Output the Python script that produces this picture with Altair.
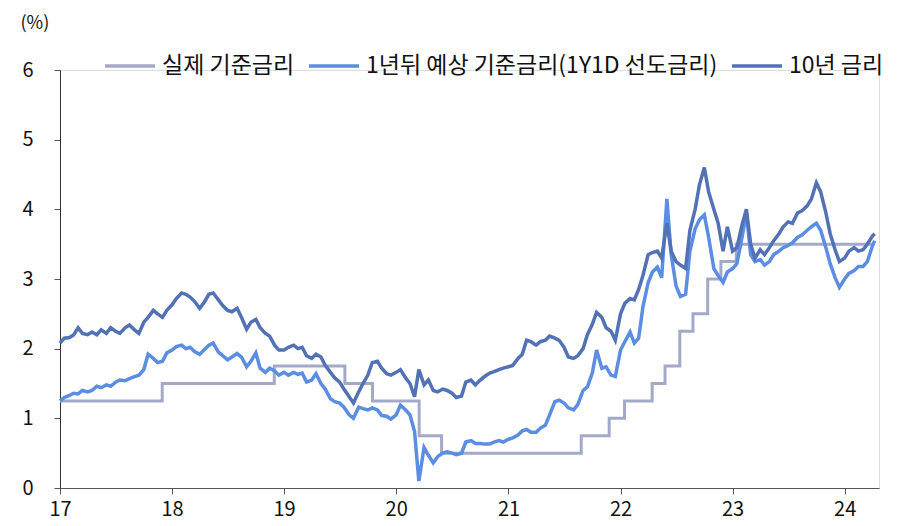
import altair as alt
import pandas as pd

NAMES = ["실제 기준금리", "1년뒤 예상 기준금리(1Y1D 선도금리)", "10년 금리"]
COLORS = ["#A3AAC9", "#5B8DE2", "#5272B5"]

# Actual policy rate (step changes)
BASE_DATES = ["2017/01/01", "2017/11/30", "2018/11/30", "2019/07/18", "2019/10/16",
              "2020/03/16", "2020/05/28", "2021/08/26", "2021/11/25", "2022/01/14",
              "2022/04/14", "2022/05/26", "2022/07/13", "2022/08/25", "2022/10/12",
              "2022/11/24", "2023/01/13", "2024/04/08"]
BASE_RATE = [1.25, 1.50, 1.75, 1.50, 1.25, 0.75, 0.50, 0.75, 1.00, 1.25,
             1.50, 1.75, 2.25, 2.50, 3.00, 3.25, 3.50, 3.50]

# semi-monthly observation dates (1st and 15th) + last obs
SERIES_DATES = [d.strftime("%Y/%m/%d") for d in
                pd.date_range("2017-01-01", "2024-04-01", freq="SMS")] + ["2024/04/08"]

TEN_YEAR = [
    # 2017
    2.08, 2.15, 2.16, 2.20, 2.30, 2.22, 2.20, 2.24, 2.20, 2.27, 2.22, 2.30,
    2.25, 2.22, 2.30, 2.34, 2.27, 2.22, 2.38, 2.45, 2.55, 2.50, 2.45, 2.55,
    # 2018
    2.63, 2.72, 2.80, 2.78, 2.74, 2.68, 2.58, 2.66, 2.78, 2.80, 2.70, 2.62,
    2.55, 2.53, 2.58, 2.45, 2.28, 2.38, 2.42, 2.30, 2.22, 2.18, 2.05, 1.98,
    # 2019
    1.98, 2.02, 2.05, 2.00, 2.02, 1.90, 1.86, 1.92, 1.88, 1.76, 1.66, 1.58,
    1.52, 1.42, 1.31, 1.22, 1.38, 1.50, 1.62, 1.80, 1.82, 1.72, 1.64, 1.62,
    # 2020
    1.66, 1.70, 1.58, 1.50, 1.31, 1.70, 1.48, 1.55, 1.40, 1.38, 1.42, 1.40,
    1.36, 1.30, 1.32, 1.52, 1.55, 1.48, 1.55, 1.60, 1.65, 1.67, 1.70, 1.72,
    # 2021
    1.74, 1.76, 1.86, 1.92, 2.12, 2.10, 2.05, 2.10, 2.12, 2.18, 2.15, 2.12,
    2.02, 1.88, 1.86, 1.90, 2.00, 2.20, 2.35, 2.52, 2.45, 2.30, 2.25, 2.12,
    # 2022
    2.50, 2.65, 2.72, 2.70, 2.85, 3.05, 3.35, 3.38, 3.40, 3.30, 3.80, 3.40,
    3.25, 3.20, 3.15, 3.70, 4.00, 4.35, 4.60, 4.25, 4.00, 3.80, 3.40, 3.75,
    # 2023
    3.40, 3.45, 3.78, 4.00, 3.50, 3.30, 3.42, 3.35, 3.45, 3.55, 3.65, 3.75,
    3.82, 3.80, 3.95, 3.98, 4.05, 4.15, 4.38, 4.25, 3.95, 3.65, 3.42, 3.25,
    # 2024
    3.30, 3.40, 3.45, 3.40, 3.42, 3.50, 3.62, 3.65,
]

FWD_1Y1D = [
    # 2017
    1.25, 1.30, 1.33, 1.36, 1.35, 1.40, 1.38, 1.40, 1.46, 1.44, 1.48, 1.46,
    1.52, 1.55, 1.54, 1.57, 1.60, 1.62, 1.70, 1.92, 1.86, 1.80, 1.82, 1.94,
    # 2018
    1.98, 2.03, 2.05, 2.00, 2.02, 1.96, 1.92, 1.98, 2.05, 2.08, 1.95, 1.90,
    1.84, 1.88, 1.93, 1.88, 1.74, 1.82, 1.94, 1.72, 1.66, 1.72, 1.68, 1.62,
    # 2019
    1.66, 1.62, 1.66, 1.63, 1.65, 1.52, 1.55, 1.64, 1.50, 1.42, 1.28, 1.24,
    1.22, 1.16, 1.05, 1.00, 1.16, 1.14, 1.12, 1.15, 1.12, 1.04, 1.03, 0.99,
    # 2020
    1.05, 1.19, 1.12, 1.05, 0.81, 0.10, 0.58, 0.47, 0.36, 0.45, 0.50, 0.52,
    0.50, 0.48, 0.50, 0.66, 0.68, 0.64, 0.64, 0.63, 0.63, 0.66, 0.68, 0.66,
    # 2021
    0.70, 0.72, 0.76, 0.82, 0.84, 0.80, 0.80, 0.86, 0.90, 1.05, 1.24, 1.26,
    1.22, 1.15, 1.12, 1.20, 1.40, 1.45, 1.65, 1.98, 1.72, 1.74, 1.62, 1.60,
    # 2022
    1.98, 2.10, 2.24, 2.08, 2.15, 2.60, 2.95, 3.10, 3.17, 3.02, 4.15, 3.35,
    2.90, 2.75, 2.78, 3.40, 3.72, 3.85, 3.92, 3.60, 3.15, 3.05, 2.95, 3.10,
    # 2023
    3.15, 3.22, 3.60, 3.95, 3.35, 3.25, 3.28, 3.20, 3.25, 3.35, 3.40, 3.45,
    3.48, 3.52, 3.60, 3.63, 3.70, 3.75, 3.80, 3.70, 3.45, 3.22, 3.02, 2.88,
    # 2024
    3.00, 3.08, 3.12, 3.18, 3.18, 3.25, 3.48, 3.55,
]

YEAR_TICKS = [2017, 2018, 2019, 2020, 2021, 2022, 2023, 2024]
Y_TICKS = [0, 1, 2, 3, 4, 5, 6]

FONT = "Noto Sans CJK KR"

base_df = pd.DataFrame({"date": BASE_DATES, "value": BASE_RATE, "series": NAMES[0]})
fwd_df = pd.DataFrame({"date": SERIES_DATES, "value": FWD_1Y1D, "series": NAMES[1]})
ten_df = pd.DataFrame({"date": SERIES_DATES, "value": TEN_YEAR, "series": NAMES[2]})

x_enc = alt.X(
    "date:T",
    scale=alt.Scale(domain=[alt.DateTime(year=2017, month=1, date=1),
                            alt.DateTime(year=2024, month=4, date=22)], nice=False),
    axis=alt.Axis(
        title=None,
        values=[alt.DateTime(year=y, month=1, date=1) for y in YEAR_TICKS],
        format="%y",
        labelFontSize=20,
        labelPadding=5,
        labelFlush=False,
        tickSize=6,
        grid=False,
        domainColor="#555555",
        tickColor="#555555",
        labelColor="#111111",
        labelFont=FONT,
    ),
)
y_enc = alt.Y(
    "value:Q",
    scale=alt.Scale(domain=[0, 6], nice=False, zero=True),
    axis=alt.Axis(
        title="(%)",
        titleAngle=0,
        titleX=-40,
        titleY=-47,
        titleAlign="left",
        titleBaseline="middle",
        titleFontSize=18,
        titleFontWeight="normal",
        titleFont=FONT,
        titleColor="#111111",
        values=Y_TICKS,
        labelFontSize=20,
        labelPadding=21,
        labelFlush=False,
        tickSize=6,
        grid=False,
        domainColor="#333333",
        tickColor="#555555",
        labelColor="#111111",
        labelFont=FONT,
    ),
)
color_enc = alt.Color(
    "series:N",
    scale=alt.Scale(domain=NAMES, range=COLORS),
    legend=alt.Legend(
        title=None,
        orient="none",
        direction="horizontal",
        legendX=43,
        legendY=-31,
        symbolType="stroke",
        symbolSize=2500,
        symbolStrokeWidth=3.5,
        labelFontSize=23,
        labelFont=FONT,
        labelColor="#111111",
        labelOffset=5,
        columnPadding=7,
        labelLimit=500,
    ),
)

base_layer = alt.Chart(base_df).mark_line(
    interpolate="step-after", strokeWidth=3
).encode(x=x_enc, y=y_enc, color=color_enc)

fwd_layer = alt.Chart(fwd_df).mark_line(strokeWidth=3.5).encode(
    x=x_enc, y=y_enc, color=color_enc)

ten_layer = alt.Chart(ten_df).mark_line(strokeWidth=3.5).encode(
    x=x_enc, y=y_enc, color=color_enc)

chart = alt.layer(base_layer, fwd_layer, ten_layer).properties(
    width=819,
    height=418,
    autosize=alt.AutoSizeParams(type="none"),
    padding={"left": 52, "top": 62, "right": 12, "bottom": 38},
).configure_view(stroke=None).configure(font=FONT)

chart.save("out.html", embed_options={"renderer": "svg", "actions": False})
